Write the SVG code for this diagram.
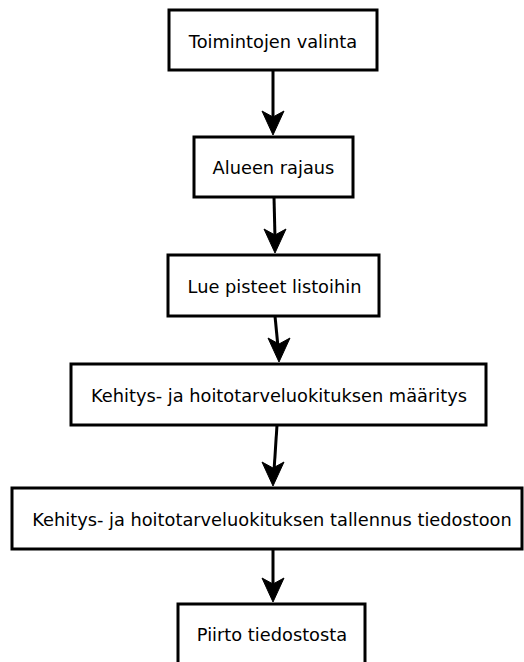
<svg xmlns="http://www.w3.org/2000/svg" width="524" height="662" viewBox="0 0 524 662">
<style>
.box{fill:#fff;stroke:#000;stroke-width:3}
.lbl{font-family:"DejaVu Sans",Verdana,sans-serif;font-size:17.8px;fill:#000;text-anchor:middle;dominant-baseline:central}
.edge{stroke:#000;stroke-width:3;fill:none}
.head{fill:#000;stroke:#000;stroke-width:1}
</style>
<rect width="524" height="662" fill="#fff"/>
<g id="n1"><rect class="box" x="169" y="10" width="208" height="60"/><text class="lbl" x="273" y="41">Toimintojen valinta</text></g>
<g id="n2"><rect class="box" x="194" y="137" width="159" height="60"/><text class="lbl" x="273.5" y="167">Alueen rajaus</text></g>
<g id="n3"><rect class="box" x="168" y="255" width="211" height="61"/><text class="lbl" x="274.5" y="286">Lue pisteet listoihin</text></g>
<g id="n4"><rect class="box" x="71" y="364" width="415" height="61"/><text class="lbl" x="279" y="395">Kehitys- ja hoitotarveluokituksen määritys</text></g>
<g id="n5"><rect class="box" x="12" y="488" width="510" height="61"/><text class="lbl" x="272" y="519">Kehitys- ja hoitotarveluokituksen tallennus tiedostoon</text></g>
<g id="n6"><rect class="box" x="178" y="604" width="187" height="70"/><text class="lbl" x="272" y="634">Piirto tiedostosta</text></g>
<g id="edges">
<line class="edge" x1="273" y1="70" x2="273" y2="120"/>
<path class="head" d="M273,135 L262,111 L273,117 L284,111 Z"/>
<line class="edge" x1="274" y1="197" x2="275" y2="238"/>
<path class="head" d="M275,253 L264,229 L275,235 L286,229 Z"/>
<line class="edge" x1="275" y1="316" x2="278" y2="347"/>
<path class="head" d="M279,362 L268,338 L279,344 L290,338 Z"/>
<line class="edge" x1="277" y1="425" x2="274" y2="471"/>
<path class="head" d="M273,486 L262,462 L273,468 L284,462 Z"/>
<line class="edge" x1="273" y1="549" x2="273" y2="587"/>
<path class="head" d="M273,602 L262,578 L273,584 L284,578 Z"/>
</g>
</svg>
